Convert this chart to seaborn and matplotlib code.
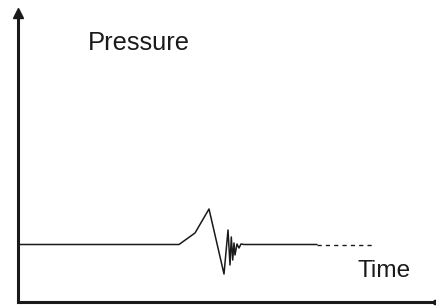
import matplotlib
matplotlib.use("Agg")
import matplotlib.pyplot as plt
import seaborn as sns
import pandas as pd

# data (time in px-like units, pressure arbitrary units)
time_solid = [20, 179, 195, 209, 224, 228, 230, 231.3, 232.7, 234, 235, 237, 239, 241, 244, 317]
pressure_solid = [57, 57, 68.5, 92.5, 27.5, 71.5, 36.5, 64.5, 41.5, 58.5, 46.5, 57.5, 53.5, 57.5, 57, 57]
time_dashed = [317, 372]
pressure_dashed = [57, 57]
y_label = "Pressure"
x_label = "Time"

sns.set_style("white")
plt.rcParams['font.family'] = ['Liberation Sans', 'DejaVu Sans']

W, H = 436, 306
fig = plt.figure(figsize=(W / 100, H / 100), dpi=100)
left_px, right_px, top_px, bottom_px = 18, 435, 13, 301.5
ax = fig.add_axes([left_px / W, (H - bottom_px) / H, (right_px - left_px) / W, (bottom_px - top_px) / H])
ax.set_xlim(left_px, right_px)
ax.set_ylim(0, bottom_px - top_px)

col = "#1a1a1a"
df1 = pd.DataFrame({"t": time_solid, "p": pressure_solid})
df2 = pd.DataFrame({"t": time_dashed, "p": pressure_dashed})
sns.lineplot(data=df1, x="t", y="p", sort=False, estimator=None, color=col, lw=1.1, ax=ax)
sns.lineplot(data=df2, x="t", y="p", sort=False, estimator=None, color=col, lw=1.0,
             linestyle=(0, (3, 3)), ax=ax)

for s in ["top", "right"]:
    ax.spines[s].set_visible(False)
for s in ["left", "bottom"]:
    ax.spines[s].set_linewidth(2.2)
    ax.spines[s].set_color(col)
ax.set_xticks([])
ax.set_yticks([])
ax.set_xlabel("")
ax.set_ylabel("")

ax.plot(0, 1, marker="^", color=col, markersize=7.5, transform=ax.transAxes, clip_on=False)
ax.plot(1, 0, marker="o", color=col, markersize=3, transform=ax.transAxes, clip_on=False)

ax.text(88, bottom_px - 50, y_label, fontsize=18.4, color=col, va="baseline", ha="left")
ax.text(358, bottom_px - 277, x_label, fontsize=17.6, color=col, va="baseline", ha="left")

fig.savefig("out.png", dpi=100)
